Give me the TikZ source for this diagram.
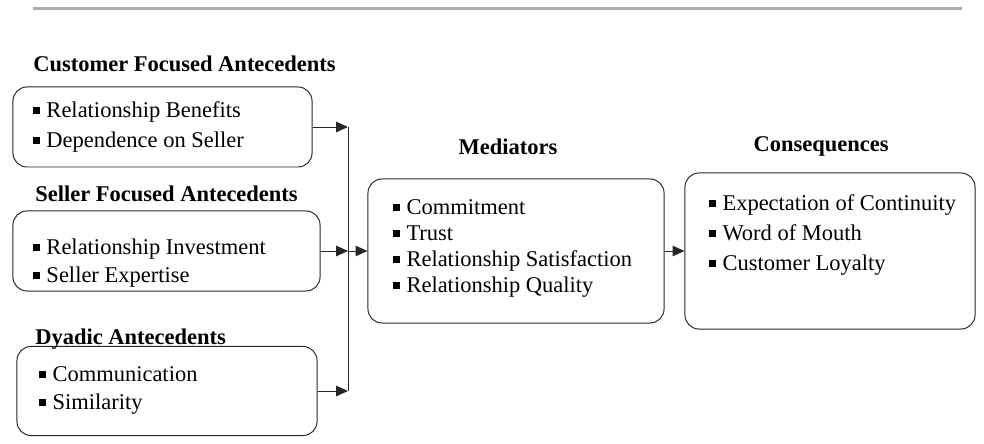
\documentclass[tikz,border=0pt]{standalone}
\usepackage{fontspec}
\setmainfont{Liberation Serif}
\usetikzlibrary{positioning, arrows.meta, calc}

\newcommand{\sqb}{\rule[2.6pt]{4.8pt}{4.8pt}\hspace{4.6pt}}

\begin{document}
\begin{tikzpicture}[
    x=0.025cm, y=-0.025cm,
    box/.style={rectangle, draw=black!85, line width=0.7pt, rounded corners=10pt},
    head/.style={inner sep=0pt, font=\fontsize{16}{19}\selectfont\bfseries, text=black},
    items/.style={inner sep=0pt, align=left, anchor=north west, text=black},
    arr/.style={-{Triangle[length=8.5pt, width=7.5pt]}, line width=0.7pt, draw=black!85},
    bar/.style={line width=0.7pt, draw=black!85}
]
    \useasboundingbox (0,0) rectangle (984,444);
    \draw[line width=2.1pt, draw=black!32] (33,8.5) -- (962,8.5);

    % antecedent boxes
    \node[box, minimum width=7.475cm, minimum height=2.0cm] (cust) at (162.5,127) {};
    \node[box, minimum width=7.675cm, minimum height=2.0cm] (sell) at (166.5,251) {};
    \node[box, minimum width=7.5cm, minimum height=2.225cm] (dyad) at (167,391) {};

    \node[head, anchor=base west] (custH) at (33,72) {Customer Focused Antecedents};
    \node[head, anchor=base west] (sellH) at (35,202) {Seller Focused Antecedents};
    \node[head, anchor=base west] (dyadH) at (35,345) {Dyadic Antecedents};

    \node[items, font=\fontsize{16}{21.3}\selectfont] (custL) at (33,101.5)
        {\sqb Relationship Benefits\\ \sqb Dependence on Seller};
    \node[items, font=\fontsize{16}{20}\selectfont] (sellL) at (33,238.5)
        {\sqb Relationship Investment\\ \sqb Seller Expertise};
    \node[items, font=\fontsize{16}{20}\selectfont] (dyadL) at (39,366.5)
        {\sqb Communication\\ \sqb Similarity};

    % mediators and consequences
    \node[box, minimum width=7.4cm, minimum height=3.6cm] (med) at (516,251) {};
    \node[box, minimum width=7.25cm, minimum height=3.9cm] (cons) at (830,251) {};

    \node[head, anchor=base] (medH) at (508,155) {Mediators};
    \node[head, anchor=base] (consH) at (821,152) {Consequences};

    \node[items, font=\fontsize{16}{18.5}\selectfont] (medL) at (393,199.5)
        {\sqb Commitment\\ \sqb Trust\\ \sqb Relationship Satisfaction\\ \sqb Relationship Quality};
    \node[items, font=\fontsize{16}{21.3}\selectfont] (consL) at (709,194.5)
        {\sqb Expectation of Continuity\\ \sqb Word of Mouth\\ \sqb Customer Loyalty};

    % connectors
    \coordinate (bus) at (348,0);
    \draw[bar] (cust.east -| bus) -- (dyad.east -| bus);
    \draw[arr] (cust.east) -- (cust.east -| bus);
    \draw[arr] (sell.east) -- (sell.east -| bus);
    \draw[arr] (dyad.east) -- (dyad.east -| bus);
    \draw[arr] (med.west -| bus) -- (med.west);
    \draw[arr] (med.east) -- (cons.west);
\end{tikzpicture}
\end{document}
